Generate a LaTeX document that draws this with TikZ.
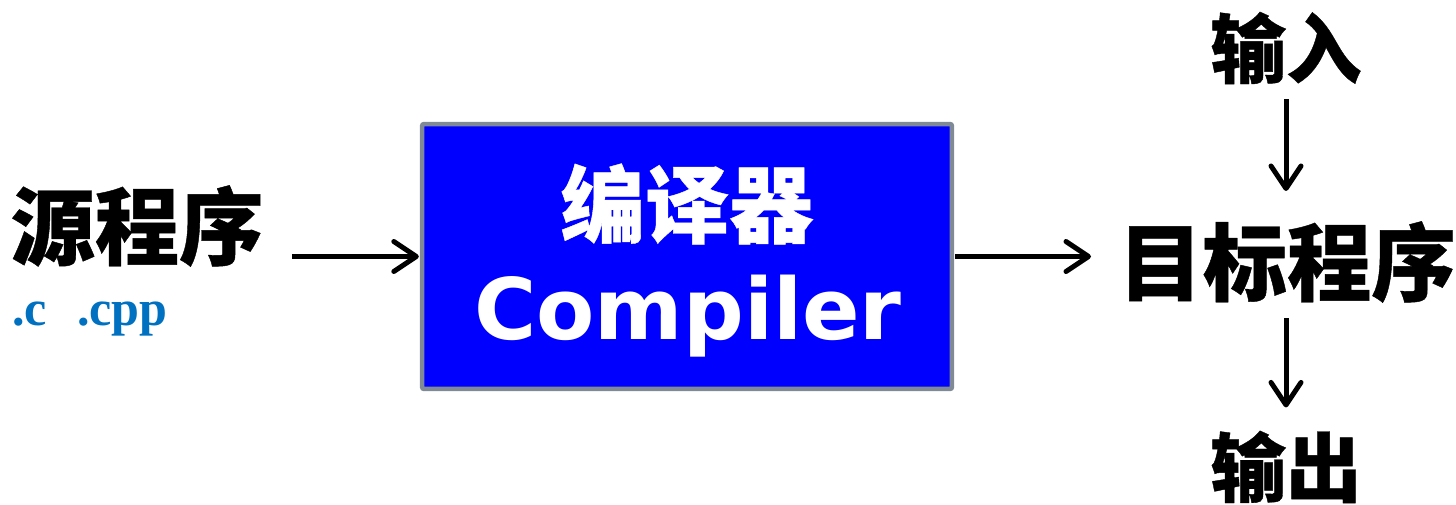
\documentclass[tikz,border=0pt]{standalone}
\usepackage{fontspec}
\usetikzlibrary{arrows.meta}
\newfontfamily\cjk[BoldFeatures={FakeBold=0.5}]{Noto Sans CJK SC}
\newfontfamily\dejavu{DejaVu Sans}
\newfontfamily\timesf{Liberation Serif}
\definecolor{boxblue}{HTML}{0000FF}
\definecolor{boxgray}{HTML}{7F8A96}
\definecolor{extblue}{HTML}{0070C0}
\begin{document}
\begin{tikzpicture}[x=0.02cm,y=-0.02cm,
  big/.style={inner sep=0pt,font=\cjk\bfseries\fontsize{48}{48}\selectfont},
  small/.style={inner sep=0pt,font=\cjk\bfseries\fontsize{43}{43}\selectfont},
  arr/.style={line width=0.1cm,-{Straight Barb[length=0.45cm,width=0.6cm,line cap=round,line join=round]}}]
\useasboundingbox (0,0) rectangle (1456,504);
\node[draw=boxgray,fill=boxblue,line width=0.09cm,rounded corners=0.04cm,minimum width=10.6cm,minimum height=5.3cm,inner sep=0pt] (box) at (687,256.5) {};
\node[big,text=white] (bianyi) at (687,204) {编译器};
\node[inner sep=0pt,anchor=base,text=white,font=\dejavu\bfseries\fontsize{48.3}{48.3}\selectfont] (comp) at (688,339) {Compiler};
\node[big] (src) at (137,226) {源程序};
\node[inner sep=0pt,anchor=base west,text=extblue,font=\timesf\bfseries\fontsize{28.5}{28.5}\selectfont] (ext) at (12,325) {.c\hspace{0.6em}.cpp};
\node[big] (tgt) at (1287,262) {目标程序};
\node[small] (in) at (1286,48) {输入};
\node[small] (out) at (1286,467) {输出};
\draw[arr] ([xshift=0.56cm]src.east |- box.west) -- ([xshift=-0.02cm]box.west);
\draw[arr] ([xshift=0.02cm]box.east) -- ([xshift=-0.54cm]tgt.west |- box.east);
\draw[arr] ([yshift=-0.3cm]in.south) -- ([yshift=0.6cm]in.south |- tgt.north);
\draw[arr] ([yshift=-0.3cm]in.south |- tgt.south) -- ([yshift=0.46cm]in.south |- out.north);
\end{tikzpicture}
\end{document}
